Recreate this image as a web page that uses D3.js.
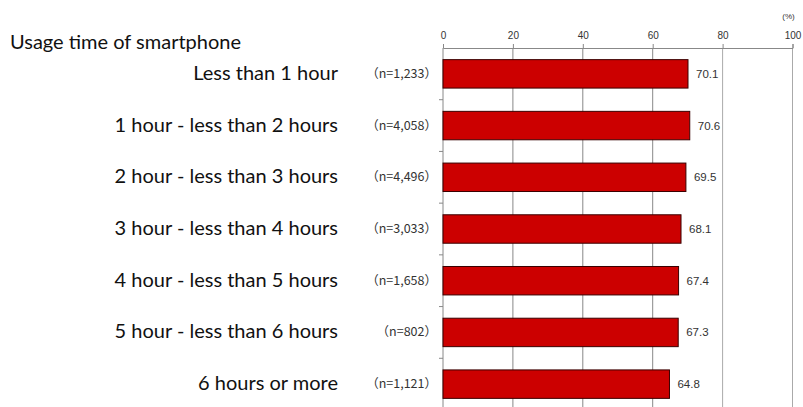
<!DOCTYPE html>
<html><head><meta charset="utf-8">
<script src="https://cdn.jsdelivr.net/npm/d3@7"></script>
<style>body{margin:0;background:#fff}</style>
</head><body>
<svg id="c" width="803" height="407"></svg>
<script>
const categories = ["Less than 1 hour","1 hour - less than 2 hours","2 hour - less than 3 hours","3 hour - less than 4 hours","4 hour - less than 5 hours","5 hour - less than 6 hours","6 hours or more"];
const nLabels = ["（n=1,233）","（n=4,058）","（n=4,496）","（n=3,033）","（n=1,658）","（n=802）","（n=1,121）"];
const values = [70.1,70.6,69.5,68.1,67.4,67.3,64.8];
const ticks = [0,20,40,60,80,100];
const title = "Usage time of smartphone";

const svg = d3.select("#c");
const x = d3.scaleLinear().domain([0,100]).range([443,792.5]);
const y = d3.scaleBand().domain(categories).range([48,410]).paddingInner(0.45).paddingOuter(0.225);

// grid
svg.selectAll("line.grid").data(ticks.slice(1)).join("line")
  .attr("x1",d=>x(d)).attr("x2",d=>x(d)).attr("y1",48).attr("y2",407)
  .attr("stroke",d=>d>=80?"#aaa":"#888").attr("stroke-width",1);
// top axis
const ax = svg.append("g").attr("transform","translate(0,48)")
  .call(d3.axisTop(x).tickValues(ticks).tickSize(4).tickPadding(5));
ax.select(".domain").attr("stroke","#888");
ax.selectAll(".tick line").attr("stroke","#888");
ax.selectAll("text").attr("font-family","Arial, Liberation Sans").attr("font-size",10).attr("fill","#333");
svg.append("text").attr("x",x(100)-4).attr("y",19).attr("text-anchor","middle")
  .attr("font-family","Arial, Liberation Sans").attr("font-size",8).attr("fill","#333").text("(%)");
// left axis
svg.append("line").attr("x1",x(0)).attr("x2",x(0)).attr("y1",48).attr("y2",407).attr("stroke","#888");
const bounds = categories.slice(1).map(c=>y(c)-y.step()*y.paddingInner()/2);
svg.selectAll("line.lt").data(bounds).join("line")
  .attr("x1",x(0)-4).attr("x2",x(0)).attr("y1",d=>d).attr("y2",d=>d).attr("stroke","#888");

// bars
svg.selectAll("rect.bar").data(values).join("rect")
  .attr("x",x(0)).attr("y",(d,i)=>y(categories[i]))
  .attr("width",d=>x(d)-x(0)).attr("height",y.bandwidth())
  .attr("fill","#cc0000").attr("stroke","#3a0000").attr("stroke-width",1);
// value labels
svg.selectAll("text.val").data(values).join("text")
  .attr("x",d=>x(d)+8).attr("y",(d,i)=>y(categories[i])+y.bandwidth()/2+4)
  .attr("font-family","Arial, Liberation Sans").attr("font-size",11.5).attr("fill","#333")
  .text(d=>d.toFixed(1));
// n labels
svg.selectAll("text.n").data(nLabels).join("text")
  .attr("x",437).attr("y",(d,i)=>y(categories[i])+y.bandwidth()/2+4)
  .attr("text-anchor","end")
  .attr("font-family","'Noto Sans CJK JP', Arial, sans-serif").attr("font-size",12.5).attr("fill","#333")
  .text(d=>d);
// category labels
svg.selectAll("text.cat").data(categories).join("text")
  .attr("x",338).attr("y",(d,i)=>y(d)+y.bandwidth()/2+6)
  .attr("text-anchor","end")
  .attr("font-family","Lato, 'Open Sans', sans-serif").attr("font-size",20).attr("fill","#111")
  .text(d=>d);
svg.append("text").attr("x",10).attr("y",49)
  .attr("font-family","Lato, 'Open Sans', sans-serif").attr("font-size",20).attr("fill","#111")
  .text(title);
</script>
</body></html>
